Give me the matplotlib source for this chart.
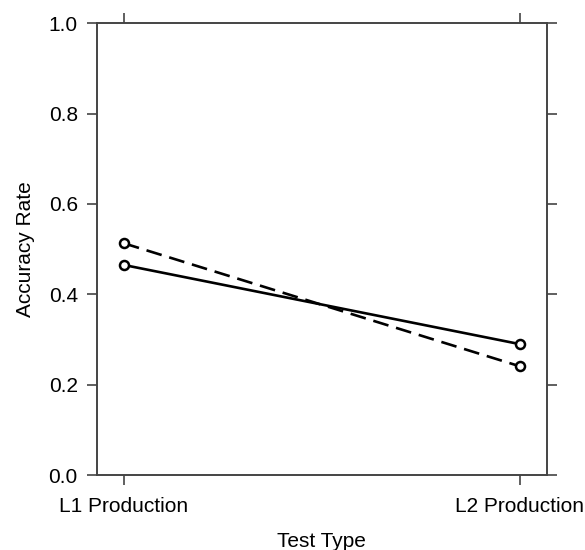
import matplotlib
matplotlib.use("Agg")
import matplotlib.pyplot as plt

# --- data ---
test_types = ["L1 Production", "L2 Production"]
x_pos = [1, 2]
acc_solid = [0.465, 0.290]
acc_dashed = [0.513, 0.241]

plt.rcParams.update({
    'font.family': ['Liberation Sans', 'DejaVu Sans'],
    'font.size': 15,
})

frame_col = '#444444'

fig = plt.figure(figsize=(5.85, 5.5), dpi=100)
ax = fig.add_axes([0.165, 0.136, 0.770, 0.822])

ax.plot(x_pos, acc_solid, color='black', linestyle='-', linewidth=1.9,
        marker='o', markersize=6.5, markerfacecolor='white', markeredgewidth=1.8)
ax.plot(x_pos, acc_dashed, color='black', linestyle=(0, (6, 3)), linewidth=1.9,
        marker='o', markersize=6.5, markerfacecolor='white', markeredgewidth=1.8)

ax.set_xlim(0.931, 2.069)
ax.set_ylim(0.0, 1.0)
ax.set_xticks(x_pos)
ax.set_xticklabels(test_types)
ax.set_yticks([0.0, 0.2, 0.4, 0.6, 0.8, 1.0])

# lattice-style ticks: outward on all four sides, labels only left/bottom
ax.tick_params(axis='both', direction='out', length=7.5, width=1.2,
               color=frame_col, top=True, right=True,
               labeltop=False, labelright=False)
ax.tick_params(axis='y', pad=6)
ax.tick_params(axis='x', pad=8)

for s in ax.spines.values():
    s.set_color(frame_col)
    s.set_linewidth(1.4)

ax.set_xlabel('Test Type', labelpad=12)
ax.set_ylabel('Accuracy Rate', labelpad=10)

fig.savefig('out.png', dpi=100)
